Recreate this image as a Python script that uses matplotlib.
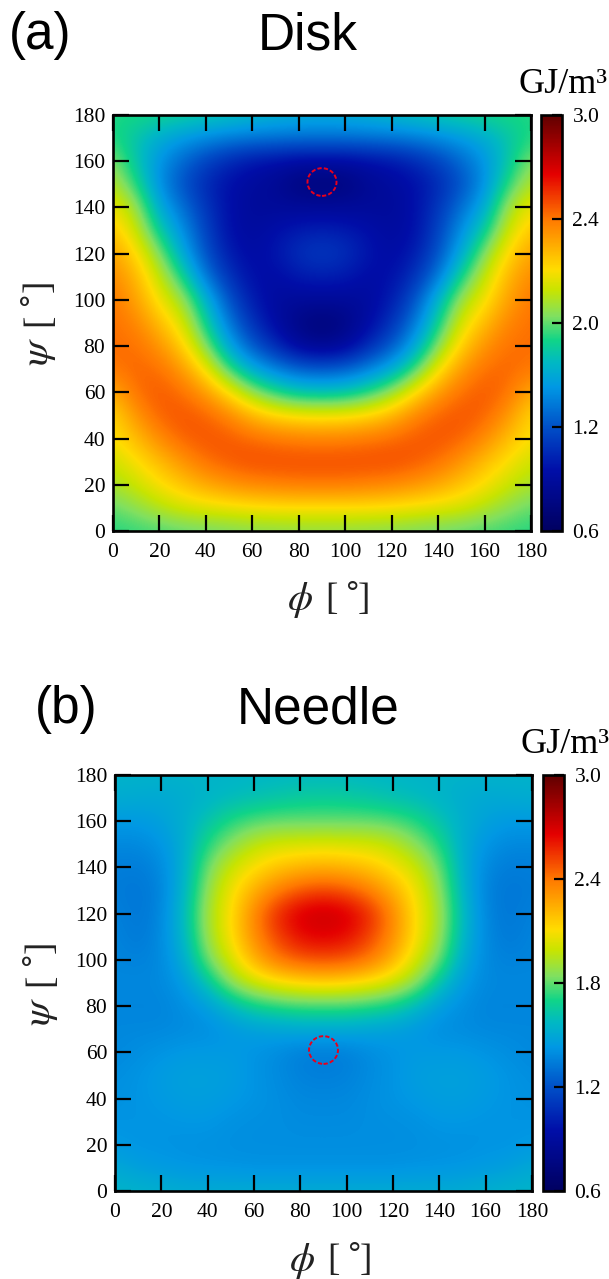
"""Two phi/psi energy maps (Disk, Needle) with their colour bars."""
import numpy as np
import matplotlib
matplotlib.use("Agg")
import matplotlib.pyplot as plt
from matplotlib.colors import LinearSegmentedColormap
from matplotlib.patches import Ellipse

W, H = 609, 1279

ANGLE_TICKS = list(range(0, 181, 20))
CBAR_TICKS = [0.6, 1.2, 1.8, 2.4, 3.0]
CBAR_LABELS_A = ["0.6", "1.2", "2.0", "2.4", "3.0"]
CBAR_LABELS_B = ["0.6", "1.2", "1.8", "2.4", "3.0"]

# value -> colour
CMAP_VALUES = [0.6, 0.95, 1.2, 1.43, 1.57, 1.7, 1.84, 1.99, 2.11, 2.4, 2.66, 3.0]
CMAP_COLORS = ["#000060", "#000ea8", "#0050c8", "#0098e4", "#00b8c4", "#10d488",
               "#80e060", "#c8e400", "#ffdc00", "#ff7800", "#e40000", "#600000"]

# rows: psi = 180, 170 ... 0   columns: phi = 0, 10 ... 180
DISK = [
    [1.72, 1.72, 1.70, 1.68, 1.65, 1.62, 1.58, 1.55, 1.53, 1.52, 1.53, 1.55, 1.58, 1.62, 1.65, 1.68, 1.70, 1.72, 1.72],
    [1.72, 1.62, 1.52, 1.45, 1.40, 1.36, 1.34, 1.33, 1.32, 1.32, 1.32, 1.33, 1.34, 1.36, 1.40, 1.45, 1.52, 1.62, 1.72],
    [1.85, 1.62, 1.42, 1.28, 1.15, 1.05, 0.98, 0.95, 0.92, 0.92, 0.92, 0.95, 0.98, 1.05, 1.15, 1.28, 1.42, 1.62, 1.85],
    [1.95, 1.72, 1.40, 1.20, 1.05, 0.95, 0.90, 0.85, 0.75, 0.72, 0.75, 0.85, 0.90, 0.95, 1.05, 1.20, 1.40, 1.72, 1.95],
    [2.08, 1.90, 1.50, 1.30, 1.10, 0.95, 0.88, 0.88, 0.87, 0.87, 0.87, 0.88, 0.88, 0.95, 1.10, 1.30, 1.50, 1.90, 2.08],
    [2.18, 2.00, 1.65, 1.40, 1.15, 0.95, 0.90, 0.95, 1.00, 1.02, 1.00, 0.95, 0.90, 0.95, 1.15, 1.40, 1.65, 2.00, 2.18],
    [2.28, 2.12, 1.85, 1.50, 1.20, 1.00, 0.92, 0.98, 1.08, 1.12, 1.08, 0.98, 0.92, 1.00, 1.20, 1.50, 1.85, 2.12, 2.28],
    [2.35, 2.22, 1.98, 1.70, 1.32, 1.08, 0.95, 0.93, 1.00, 1.02, 1.00, 0.93, 0.95, 1.08, 1.32, 1.70, 1.98, 2.22, 2.35],
    [2.40, 2.28, 2.08, 1.90, 1.55, 1.20, 1.00, 0.90, 0.88, 0.88, 0.88, 0.90, 1.00, 1.20, 1.55, 1.90, 2.08, 2.28, 2.40],
    [2.42, 2.36, 2.20, 2.03, 1.68, 1.32, 1.08, 0.92, 0.78, 0.72, 0.78, 0.92, 1.08, 1.32, 1.68, 2.03, 2.20, 2.36, 2.42],
    [2.42, 2.42, 2.32, 2.15, 1.85, 1.48, 1.22, 1.05, 0.88, 0.82, 0.88, 1.05, 1.22, 1.48, 1.85, 2.15, 2.32, 2.42, 2.42],
    [2.40, 2.44, 2.42, 2.30, 2.08, 1.75, 1.50, 1.35, 1.25, 1.22, 1.25, 1.35, 1.50, 1.75, 2.08, 2.30, 2.42, 2.44, 2.40],
    [2.25, 2.42, 2.47, 2.42, 2.30, 2.10, 1.88, 1.72, 1.62, 1.60, 1.62, 1.72, 1.88, 2.10, 2.30, 2.42, 2.47, 2.42, 2.25],
    [2.12, 2.32, 2.45, 2.48, 2.45, 2.36, 2.22, 2.13, 2.09, 2.08, 2.09, 2.13, 2.22, 2.36, 2.45, 2.48, 2.45, 2.32, 2.12],
    [2.10, 2.20, 2.35, 2.45, 2.48, 2.47, 2.43, 2.40, 2.38, 2.37, 2.38, 2.40, 2.43, 2.47, 2.48, 2.45, 2.35, 2.20, 2.10],
    [2.00, 2.10, 2.20, 2.32, 2.42, 2.47, 2.50, 2.50, 2.50, 2.50, 2.50, 2.50, 2.50, 2.47, 2.42, 2.32, 2.20, 2.10, 2.00],
    [1.92, 2.00, 2.10, 2.18, 2.26, 2.32, 2.36, 2.38, 2.40, 2.40, 2.40, 2.38, 2.36, 2.32, 2.26, 2.18, 2.10, 2.00, 1.92],
    [1.80, 1.87, 1.95, 2.02, 2.05, 2.07, 2.09, 2.10, 2.10, 2.10, 2.10, 2.10, 2.09, 2.07, 2.05, 2.02, 1.95, 1.87, 1.80],
    [1.72, 1.74, 1.76, 1.78, 1.80, 1.82, 1.84, 1.85, 1.86, 1.86, 1.86, 1.85, 1.84, 1.82, 1.80, 1.78, 1.76, 1.74, 1.72],
]
NEEDLE = [
    [1.55, 1.55, 1.55, 1.55, 1.55, 1.55, 1.56, 1.56, 1.57, 1.57, 1.57, 1.56, 1.56, 1.55, 1.55, 1.55, 1.55, 1.55, 1.55],
    [1.52, 1.51, 1.50, 1.52, 1.55, 1.58, 1.60, 1.63, 1.65, 1.66, 1.65, 1.63, 1.60, 1.58, 1.55, 1.52, 1.50, 1.51, 1.52],
    [1.44, 1.44, 1.47, 1.53, 1.62, 1.72, 1.78, 1.80, 1.80, 1.80, 1.80, 1.80, 1.78, 1.72, 1.62, 1.53, 1.47, 1.44, 1.44],
    [1.38, 1.38, 1.42, 1.52, 1.72, 1.86, 1.97, 2.02, 2.03, 2.04, 2.03, 2.02, 1.97, 1.86, 1.72, 1.52, 1.42, 1.38, 1.38],
    [1.35, 1.34, 1.38, 1.53, 1.82, 2.00, 2.10, 2.18, 2.22, 2.24, 2.22, 2.18, 2.10, 2.00, 1.82, 1.53, 1.38, 1.34, 1.35],
    [1.34, 1.32, 1.36, 1.55, 1.88, 2.08, 2.24, 2.38, 2.48, 2.52, 2.48, 2.38, 2.24, 2.08, 1.88, 1.55, 1.36, 1.32, 1.34],
    [1.36, 1.32, 1.37, 1.58, 1.92, 2.10, 2.36, 2.58, 2.70, 2.74, 2.70, 2.58, 2.36, 2.10, 1.92, 1.58, 1.37, 1.32, 1.36],
    [1.37, 1.33, 1.38, 1.56, 1.90, 2.10, 2.34, 2.52, 2.64, 2.67, 2.64, 2.52, 2.34, 2.10, 1.90, 1.56, 1.38, 1.33, 1.37],
    [1.37, 1.36, 1.38, 1.51, 1.82, 2.02, 2.24, 2.40, 2.48, 2.50, 2.48, 2.40, 2.24, 2.02, 1.82, 1.51, 1.38, 1.36, 1.37],
    [1.38, 1.38, 1.38, 1.44, 1.62, 1.87, 2.00, 2.08, 2.12, 2.14, 2.12, 2.08, 2.00, 1.87, 1.62, 1.44, 1.38, 1.38, 1.38],
    [1.37, 1.37, 1.37, 1.40, 1.45, 1.57, 1.68, 1.72, 1.75, 1.75, 1.75, 1.72, 1.68, 1.57, 1.45, 1.40, 1.37, 1.37, 1.37],
    [1.38, 1.38, 1.38, 1.39, 1.40, 1.43, 1.46, 1.48, 1.50, 1.50, 1.50, 1.48, 1.46, 1.43, 1.40, 1.39, 1.38, 1.38, 1.38],
    [1.38, 1.40, 1.42, 1.44, 1.44, 1.44, 1.42, 1.39, 1.35, 1.34, 1.35, 1.39, 1.42, 1.44, 1.44, 1.44, 1.42, 1.40, 1.38],
    [1.40, 1.42, 1.45, 1.47, 1.47, 1.46, 1.42, 1.39, 1.36, 1.35, 1.36, 1.39, 1.42, 1.46, 1.47, 1.47, 1.45, 1.42, 1.40],
    [1.41, 1.42, 1.44, 1.46, 1.46, 1.44, 1.42, 1.40, 1.38, 1.38, 1.38, 1.40, 1.42, 1.44, 1.46, 1.46, 1.44, 1.42, 1.41],
    [1.42, 1.42, 1.42, 1.43, 1.43, 1.41, 1.40, 1.40, 1.39, 1.39, 1.39, 1.40, 1.40, 1.41, 1.43, 1.43, 1.42, 1.42, 1.42],
    [1.44, 1.42, 1.42, 1.41, 1.41, 1.40, 1.40, 1.40, 1.40, 1.40, 1.40, 1.40, 1.40, 1.40, 1.41, 1.41, 1.42, 1.42, 1.44],
    [1.50, 1.46, 1.44, 1.43, 1.42, 1.42, 1.41, 1.41, 1.41, 1.41, 1.41, 1.41, 1.41, 1.42, 1.42, 1.43, 1.44, 1.46, 1.50],
    [1.56, 1.55, 1.54, 1.52, 1.52, 1.52, 1.52, 1.52, 1.52, 1.52, 1.52, 1.52, 1.52, 1.52, 1.52, 1.52, 1.54, 1.55, 1.56],
]

plt.rcParams["font.family"] = ["Liberation Serif", "DejaVu Serif"]
plt.rcParams["mathtext.fontset"] = "stix"

span = 3.0 - 0.6
cmap = LinearSegmentedColormap.from_list(
    "energy", [((v - 0.6) / span, c) for v, c in zip(CMAP_VALUES, CMAP_COLORS)], N=512)

fig = plt.figure(figsize=(W / 100, H / 100), dpi=100, facecolor="white")


def box(x0, y0, x1, y1):
    # pixel box (y from the top of the image) -> figure fractions
    return [x0 / W, 1 - y1 / H, (x1 - x0) / W, (y1 - y0) / H]


def label(x, y, s, **kw):
    fig.text(x / W, 1 - y / H, s, **kw)


def draw_panel(data, ax_box, cax_box, cbar_labels, circle_psi):
    ax = fig.add_axes(box(*ax_box))
    im = ax.imshow(data, cmap=cmap, vmin=0.6, vmax=3.0, extent=[-5, 185, -5, 185],
                   origin="upper", interpolation="bicubic", aspect="auto")
    ax.set_xlim(0, 180)
    ax.set_ylim(0, 180)
    ax.set_xticks(ANGLE_TICKS)
    ax.set_yticks(ANGLE_TICKS)
    ax.tick_params(axis="x", direction="in", length=11.5, width=1.6, top=True,
                   labelsize=15.5, pad=8.5)
    ax.tick_params(axis="y", direction="in", length=11.5, width=1.6, right=True,
                   labelsize=15.5, pad=5.5)
    for side in ax.spines.values():
        side.set_linewidth(1.9)
    ax.add_patch(Ellipse((90, circle_psi), 12.5, 12, fill=False, edgecolor="#e8001c",
                         linewidth=1.4, linestyle=(0, (2.2, 1.1)), zorder=5))

    cax = fig.add_axes(box(*cax_box))
    cbar = fig.colorbar(im, cax=cax)
    cbar.set_ticks(CBAR_TICKS)
    cbar.set_ticklabels(cbar_labels)
    cax.tick_params(direction="in", length=7, width=1.6, labelsize=15.5, pad=7.5)
    cbar.outline.set_linewidth(1.9)


def x_axis_name(sym_x, y, open_x, close_x, deg_x, deg_top):
    label(sym_x, y, r"$\phi$", fontsize=29, ha="center", va="center", color="#222222")
    label(open_x, y, "[", fontsize=27, ha="center", va="center", color="#222222")
    label(close_x, y, "]", fontsize=27, ha="center", va="center", color="#222222")
    label(deg_x, deg_top, "°", fontsize=24, family="Liberation Sans", ha="center", va="top",
          color="#222222")


def y_axis_name(x, sym_y, open_y, close_y, deg_left, deg_y):
    label(x, sym_y, r"$\psi$", fontsize=29, rotation=90, ha="center", va="center", color="#222222")
    label(x, open_y, "[", fontsize=27, rotation=90, ha="center", va="center", color="#222222")
    label(x, close_y, "]", fontsize=27, rotation=90, ha="center", va="center", color="#222222")
    label(deg_left, deg_y, "°", fontsize=24, family="Liberation Sans", rotation=90, ha="left",
          va="center", color="#222222")


draw_panel(DISK, (113, 115, 531, 531), (541, 115, 562, 531), CBAR_LABELS_A, 151)
draw_panel(NEEDLE, (115, 775, 532, 1191), (543, 775, 564, 1191), CBAR_LABELS_B, 61)

for x, y, s in [(40, 49, "(a)"), (308, 49, "Disk"), (66, 723, "(b)"), (318, 723, "Needle")]:
    label(x, y, s, fontsize=37, family="Liberation Sans", ha="center", va="baseline")

label(519, 93, "GJ/m³", fontsize=26, ha="left", va="baseline")
label(521, 753, "GJ/m³", fontsize=26, ha="left", va="baseline")

x_axis_name(300, 600, 331, 364, 353, 580)
x_axis_name(302, 1261, 333, 366, 355, 1241)
y_axis_name(39, 352, 320, 286, 18, 298)
y_axis_name(41, 1012, 980, 947, 20, 958)

fig.savefig("out.png", dpi=100, facecolor="white")
plt.close(fig)
